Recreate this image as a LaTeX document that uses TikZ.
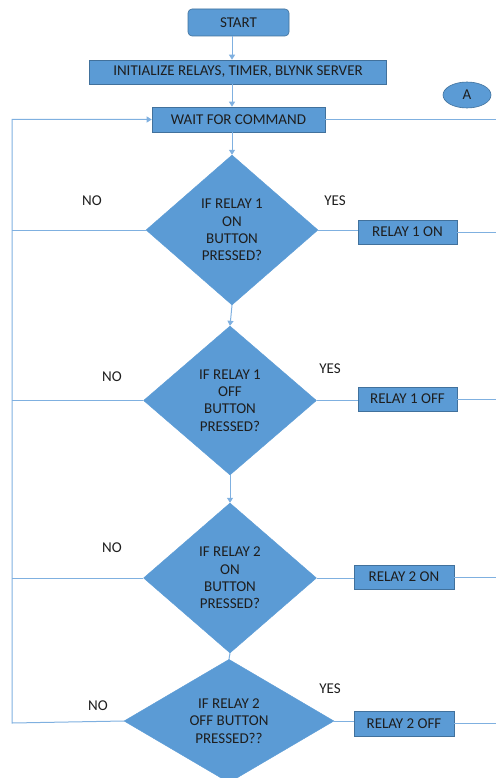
\documentclass[tikz,border=0pt]{standalone}
\usepackage{fontspec}
\setmainfont{Carlito}
\usetikzlibrary{shapes.geometric,arrows.meta}
\definecolor{boxfill}{HTML}{5B9BD5}
\definecolor{boxline}{HTML}{41719C}
\definecolor{conn}{HTML}{7FB0E0}
\definecolor{txt}{HTML}{1E1E1E}
\tikzset{
  every node/.style={font=\fontsize{15}{17.3}\selectfont, text=txt},
  procbox/.style={draw=boxline, line width=0.6pt, fill=boxfill, inner sep=0pt},
  decbox/.style={diamond, fill=boxfill, draw=boxfill, inner sep=0pt, align=center},
  conline/.style={draw=conn, line width=1pt},
  arr/.style={conline, -{Triangle[length=5pt,width=6pt]}},
  lbl/.style={inner sep=0pt}
}
\begin{document}
\begin{tikzpicture}[x=1pt,y=-1pt]
\useasboundingbox (0,0) rectangle (496,778);
% nodes
\node[procbox, rounded corners=4pt, minimum width=101pt, minimum height=27pt] (start) at (238.5,22.5) {START};
\node[procbox, minimum width=297pt, minimum height=24pt] (init) at (238,72) {INITIALIZE RELAYS, TIMER, BLYNK SERVER};
\node[ellipse, procbox, minimum width=48pt, minimum height=26pt] (A) at (467,95) {A};
\node[procbox, minimum width=173pt, minimum height=25pt] (wait) at (238.5,119.5) {WAIT FOR COMMAND};
\node[decbox, minimum width=172pt, minimum height=150pt] (d1) at (232,230) {IF RELAY 1\\ON\\BUTTON\\PRESSED?};
\node[procbox, minimum width=99pt, minimum height=24pt] (r1on) at (407.5,232) {RELAY 1 ON};
\node[decbox, minimum width=173pt, minimum height=149pt] (d2) at (230,400.5) {IF RELAY 1\\OFF\\BUTTON\\PRESSED?};
\node[procbox, minimum width=99pt, minimum height=24pt] (r1off) at (407.5,399) {RELAY 1 OFF};
\node[decbox, minimum width=173pt, minimum height=150pt] (d3) at (230,578) {IF RELAY 2\\ON\\BUTTON\\PRESSED?};
\node[procbox, minimum width=100pt, minimum height=24pt] (r2on) at (404,577) {RELAY 2 ON};
\node[decbox, minimum width=210pt, minimum height=112pt] (d4) at (229,721) {IF RELAY 2\\OFF BUTTON\\PRESSED??};
\node[procbox, minimum width=100pt, minimum height=25pt] (r2off) at (404,723.5) {RELAY 2 OFF};
% labels
\node[lbl] (no1) at (92,201) {NO};
\node[lbl] (yes1) at (335,201) {YES};
\node[lbl] (no2) at (112,377) {NO};
\node[lbl] (yes2) at (330,369) {YES};
\node[lbl] (no3) at (112,548) {NO};
\node[lbl] (no4) at (98,706) {NO};
\node[lbl] (yes4) at (330,689) {YES};
% helper coordinates
\coordinate (lb) at (12,723);
\coordinate (re) at (496,0);
% spine
\draw[arr] (start.south -| d1.north) -- (init.north -| d1.north);
\draw[arr] (init.south -| d1.north) -- (wait.north -| d1.north);
\draw[arr] (wait.south -| d1.north) -- (d1.north);
\draw[arr] (d1.south) -- (d2.north);
\draw[arr] (d2.south) -- (d3.north);
\draw[conline] (d3.south) -- (d4.north);
% left loop
\draw[arr] (d4.west) -- (lb) |- (wait.west);
\draw[conline] (d1.west) -- (d1.west -| lb);
\draw[conline] (d2.west) -- (d2.west -| lb);
\draw[conline] (d3.west) -- (d3.west -| lb);
% yes branches
\draw[conline] (d1.east) -- (d1.east -| r1on.west);
\draw[conline] (d2.east) -- (d2.east -| r1off.west);
\draw[conline] (d3.east) -- (d3.east -| r2on.west);
\draw[conline] (d4.east) -- (d4.east -| r2off.west);
% right exits
\draw[conline] (wait.east) -- (wait.east -| re);
\draw[conline] (r1on.east) -- (r1on.east -| re);
\draw[conline] (r1off.east) -- (r1off.east -| re);
\draw[conline] (r2on.east) -- (r2on.east -| re);
\draw[conline] (r2off.east) -- (r2off.east -| re);
\end{tikzpicture}
\end{document}
